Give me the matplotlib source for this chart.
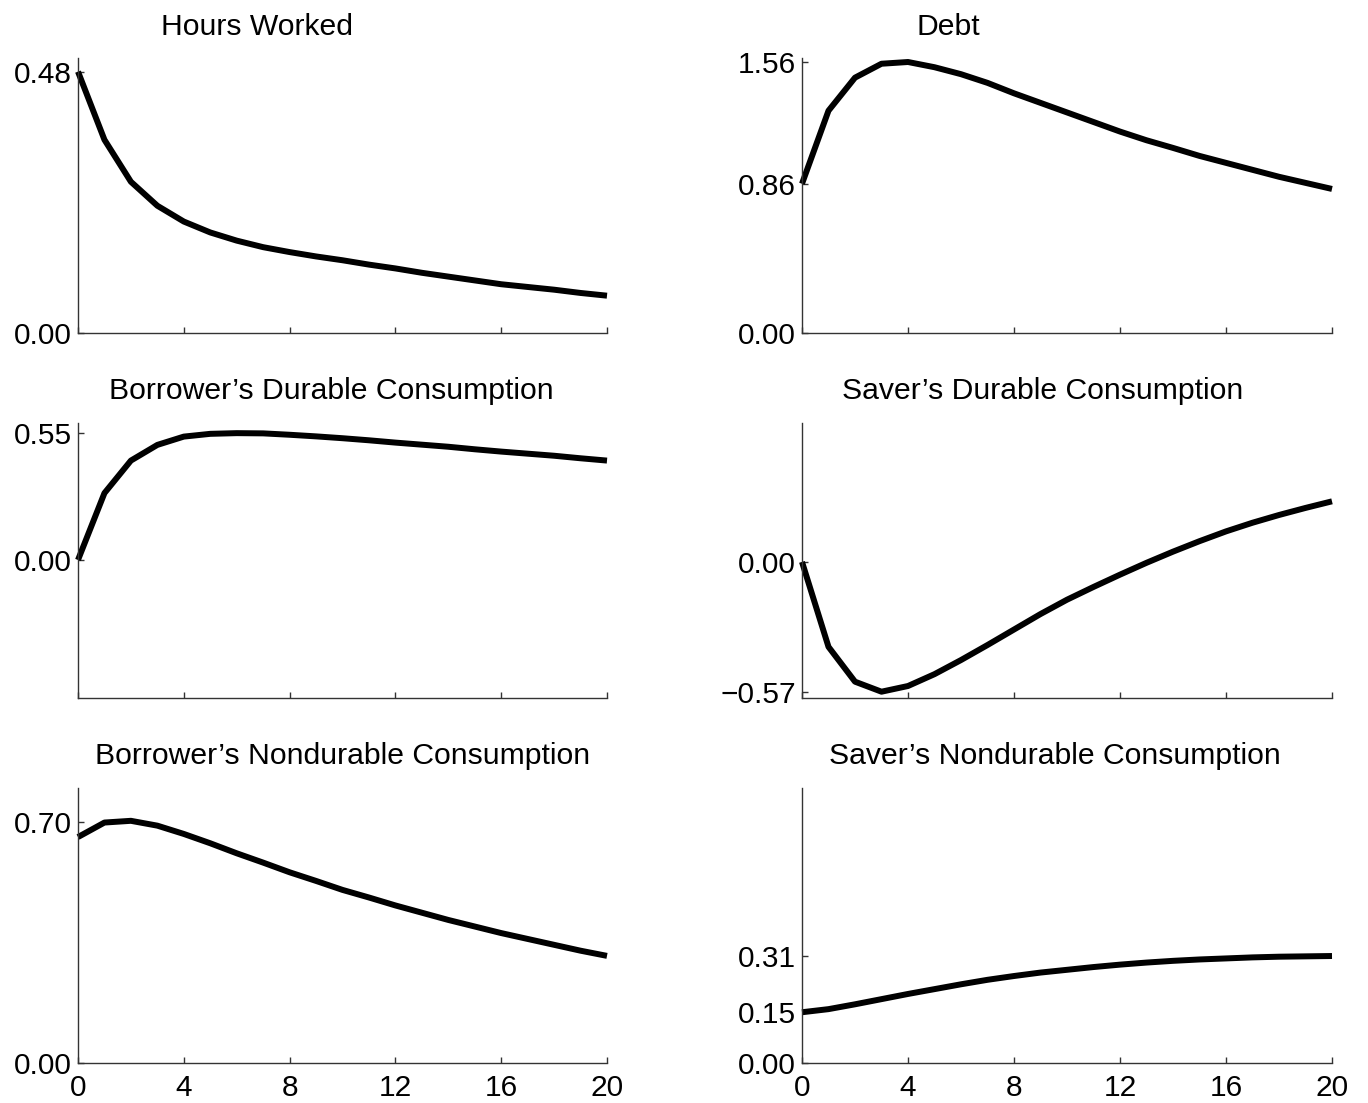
import numpy as np
import matplotlib.pyplot as plt

plt.rcParams['font.family'] = ['Liberation Sans', 'DejaVu Sans']

periods = np.arange(21)

hours_worked = [0.480, 0.355, 0.278, 0.234, 0.205, 0.185, 0.170, 0.158, 0.149, 0.141, 0.134,
                0.126, 0.119, 0.111, 0.104, 0.097, 0.090, 0.085, 0.080, 0.074, 0.069]
debt = [0.86, 1.28, 1.47, 1.55, 1.56, 1.53, 1.49, 1.44, 1.38, 1.325, 1.27,
        1.215, 1.16, 1.11, 1.066, 1.02, 0.98, 0.94, 0.90, 0.865, 0.83]
borrower_durable = [0.0, 0.29, 0.431, 0.499, 0.535, 0.547, 0.55, 0.549, 0.543, 0.536, 0.528,
                    0.519, 0.509, 0.50, 0.491, 0.48, 0.470, 0.461, 0.452, 0.441, 0.431]
saver_durable = [0.0, -0.373, -0.526, -0.57, -0.545, -0.493, -0.431, -0.365, -0.297, -0.229, -0.166,
                 -0.110, -0.056, -0.004, 0.045, 0.091, 0.134, 0.172, 0.206, 0.237, 0.266]
borrower_nondurable = [0.655, 0.697, 0.702, 0.688, 0.664, 0.637, 0.608, 0.581, 0.553, 0.528, 0.502,
                       0.48, 0.457, 0.436, 0.415, 0.396, 0.377, 0.36, 0.343, 0.326, 0.311]
saver_nondurable = [0.148, 0.157, 0.171, 0.186, 0.201, 0.215, 0.229, 0.242, 0.253, 0.263, 0.271,
                    0.279, 0.286, 0.292, 0.297, 0.301, 0.304, 0.307, 0.309, 0.310, 0.311]

titles = ["Hours Worked", "Debt",
          "Borrower\u2019s Durable Consumption", "Saver\u2019s Durable Consumption",
          "Borrower\u2019s Nondurable Consumption", "Saver\u2019s Nondurable Consumption"]
series = [hours_worked, debt, borrower_durable, saver_durable, borrower_nondurable, saver_nondurable]
ytick_vals = [[0, 0.48], [0, 0.86, 1.56], [0, 0.55], [-0.57, 0], [0, 0.70], [0, 0.15, 0.31]]
ylims = [(0, 0.505), (0, 1.583), (-0.60, 0.594), (-0.599, 0.61), (0, 0.797), (0, 0.798)]

W, H = 1368, 1103
fig = plt.figure(figsize=(W / 100, H / 100), dpi=100)

cols = [(78, 607), (802, 1332)]
rows = [(58, 333.3), (423, 698.3), (788, 1063.3)]
title_pos = [(257, 35), (948, 35), (331, 399), (1043, 399), (343, 764), (1055, 764)]
spine_col = '#333333'

for i in range(6):
    r, c = divmod(i, 2)
    x0, x1 = cols[c]
    y0, y1 = rows[r]
    ax = fig.add_axes([x0 / W, 1 - y1 / H, (x1 - x0) / W, (y1 - y0) / H])
    ax.plot(periods, series[i], color='black', lw=4.3, solid_capstyle='butt', clip_on=False)
    ax.set_xlim(0, 20)
    ax.set_ylim(*ylims[i])
    ax.spines['top'].set_visible(False)
    ax.spines['right'].set_visible(False)
    for s in ['left', 'bottom']:
        ax.spines[s].set_color(spine_col)
        ax.spines[s].set_linewidth(1.0)
    ax.set_xticks(range(0, 21, 4))
    if r < 2:
        ax.set_xticklabels([])
    ax.set_yticks(ytick_vals[i])
    ax.set_yticklabels([f"{v:.2f}".replace('-', '\u2212') for v in ytick_vals[i]])
    ax.tick_params(axis='both', direction='in', length=4, width=1, color=spine_col, labelsize=21.5)
    ax.tick_params(axis='y', pad=4.5)
    ax.tick_params(axis='x', pad=8)
    tx, ty = title_pos[i]
    fig.text(tx / W, 1 - ty / H, titles[i], ha='center', va='baseline', fontsize=21.7)

fig.savefig('out.png', dpi=100)
